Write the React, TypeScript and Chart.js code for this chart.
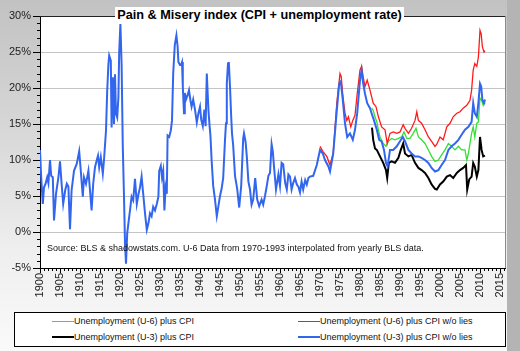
import React, { useEffect, useRef } from 'react';
import { Chart, registerables } from 'chart.js';

Chart.register(...registerables);

const FONT = '"Liberation Sans", Arial, Helvetica, sans-serif';

const TITLE = 'Pain & Misery index (CPI + unemployment rate)';
const SOURCE_NOTE = 'Source: BLS & shadowstats.com. U-6 Data from 1970-1993 interpolated from yearly BLS data.';

const X_TICKS = [1900, 1905, 1910, 1915, 1920, 1925, 1930, 1935, 1940, 1945, 1950, 1955, 1960, 1965, 1970, 1975, 1980, 1985, 1990, 1995, 2000, 2005, 2010, 2015];
const Y_TICKS = [-5, 0, 5, 10, 15, 20, 25, 30];

// Unemployment (U-3) plus CPI w/o lies (blue)
const blueYears = [
  1900.0, 1900.3, 1900.7, 1901.0, 1901.4, 1901.8, 1902.1, 1902.5, 1902.8, 1903.2, 1903.5, 1904.0, 1904.6, 1905.0, 1905.4, 1905.8,
  1906.3, 1906.7, 1907.1, 1907.5, 1907.9, 1908.5, 1909.2, 1909.8, 1910.2, 1910.7, 1911.0, 1911.5, 1912.1, 1912.5, 1912.9, 1913.3,
  1913.75, 1914.2, 1914.5, 1914.8, 1915.2, 1915.7, 1916.0, 1916.5, 1916.8, 1917.1, 1917.3, 1917.7, 1917.9, 1918.2, 1918.5, 1918.75,
  1919.0, 1919.3, 1919.6, 1919.8, 1920.1, 1920.4, 1920.7, 1921.0, 1921.25, 1921.5, 1921.8, 1922.1, 1922.5, 1922.9, 1923.3, 1923.75,
  1924.2, 1924.6, 1925.0, 1925.4, 1925.8, 1926.25, 1926.7, 1927.1, 1927.5, 1927.9, 1928.3, 1928.75, 1929.2, 1929.6, 1929.8, 1930.2,
  1930.5, 1930.8, 1931.1, 1931.4, 1931.7, 1931.9, 1932.3, 1932.7, 1933.0, 1933.3, 1933.7, 1934.1, 1934.4, 1934.6, 1935.0, 1935.25,
  1935.5, 1935.7, 1936.0, 1936.2, 1936.5, 1936.9, 1937.25, 1937.6, 1937.9, 1938.3, 1938.75, 1939.2, 1939.6, 1940.0, 1940.3, 1940.7,
  1941.1, 1941.4, 1941.7, 1942.1, 1942.4, 1942.6, 1942.9, 1943.3, 1943.75, 1944.2, 1944.6, 1945.0, 1945.4, 1945.8, 1946.25, 1946.5,
  1946.7, 1947.0, 1947.2, 1947.5, 1947.8, 1948.0, 1948.3, 1948.75, 1949.3, 1949.8, 1950.3, 1950.8, 1951.0, 1951.4, 1951.7, 1952.1,
  1952.5, 1952.9, 1953.3, 1953.8, 1954.3, 1954.8, 1955.4, 1955.8, 1956.25, 1956.7, 1957.1, 1957.5, 1957.9, 1958.2, 1958.5, 1959.0,
  1959.6, 1960.0, 1960.4, 1960.8, 1961.3, 1961.7, 1962.1, 1962.5, 1962.9, 1963.3, 1963.75, 1964.2, 1964.6, 1965.0, 1965.4, 1965.8,
  1966.3, 1966.7, 1967.1, 1967.5, 1968.3, 1969.2, 1970.0, 1970.7, 1971.25, 1972.1, 1972.5, 1973.3, 1974.2, 1974.8, 1975.2, 1975.7,
  1976.25, 1976.8, 1977.5, 1978.2, 1978.75, 1979.3, 1980.0, 1980.4, 1980.8, 1981.25, 1981.8, 1982.5, 1982.9, 1983.5, 1984.2, 1984.8,
  1985.4, 1986.0, 1986.5, 1986.9, 1987.5, 1988.3, 1989.2, 1990.0, 1990.7, 1991.25, 1992.1, 1992.9, 1993.75, 1994.6, 1995.4, 1996.25,
  1997.1, 1997.9, 1998.75, 1999.6, 2000.4, 2001.25, 2002.1, 2002.9, 2003.75, 2004.6, 2005.4, 2006.25, 2007.1, 2007.9, 2008.3, 2008.7,
  2009.2, 2009.6, 2010.0, 2010.3, 2010.6, 2011.0, 2011.25,
];
const blueValues = [
  11.4, 7.6, 3.9, 6.2, 6.7, 7.6, 6.8, 10.0, 7.8, 7.6, 1.6, 5.3, 7.6, 9.8, 6.7, 3.9,
  5.8, 6.7, 6.3, 0.4, 5.8, 8.5, 9.5, 11.2, 8.5, 4.9, 7.6, 6.7, 8.5, 5.8, 3.0, 6.7,
  9.0, 10.0, 10.6, 9.0, 10.4, 8.1, 10.0, 14.1, 19.6, 23.3, 24.5, 23.8, 14.5, 21.5, 15.0, 21.9,
  16.4, 15.9, 18.7, 25.0, 28.9, 23.3, 11.8, 4.9, -1.6, -4.4, -0.2, 1.2, 3.0, 4.9, 4.4, 7.4,
  3.9, 5.2, 6.2, 7.7, 5.3, 2.6, 0.3, 1.2, 2.6, 2.2, 3.5, 3.0, 3.9, 4.9, 8.5, 9.2,
  7.6, 8.5, 3.0, 6.2, 5.3, 13.4, 13.2, 14.1, 15.5, 22.0, 26.0, 27.3, 25.8, 23.6, 23.2, 23.2,
  23.6, 20.2, 16.5, 19.3, 18.4, 19.0, 19.7, 18.3, 17.4, 18.4, 17.0, 15.2, 16.5, 17.4, 15.6, 14.7,
  17.0, 14.7, 22.0, 17.0, 14.7, 13.5, 10.0, 6.4, 4.5, 2.2, 3.6, 5.0, 6.0, 7.5, 12.8, 15.1,
  20.6, 23.4, 23.6, 20.2, 16.0, 13.7, 12.0, 7.8, 6.0, 3.4, 6.4, 13.0, 13.7, 12.5, 10.5, 7.0,
  5.9, 3.8, 4.5, 7.5, 4.5, 3.6, 4.5, 3.8, 5.0, 6.4, 7.8, 8.2, 12.2, 11.2, 9.1, 5.9,
  8.0, 6.4, 9.6, 9.4, 6.8, 5.9, 8.0, 7.7, 5.9, 6.8, 7.5, 6.6, 6.3, 5.5, 7.0, 5.9,
  7.2, 6.6, 7.5, 7.7, 7.8, 9.3, 11.4, 10.9, 10.0, 9.1, 8.4, 10.9, 16.9, 20.6, 20.9, 18.3,
  15.1, 13.2, 13.7, 12.8, 14.2, 16.5, 21.1, 22.5, 20.6, 19.2, 17.9, 17.2, 16.5, 15.5, 14.2, 12.8,
  12.6, 11.4, 9.6, 9.1, 11.4, 11.4, 11.9, 12.6, 13.2, 12.6, 11.4, 10.9, 10.5, 10.5, 10.3, 10.0,
  9.6, 8.9, 8.4, 8.6, 9.3, 10.0, 11.4, 11.9, 12.3, 12.8, 13.5, 14.2, 14.6, 15.3, 17.9, 16.5,
  16.0, 17.9, 20.6, 20.2, 18.3, 17.9, 18.4,
];

// Unemployment (U-6) plus CPI w/o lies (red)
const redYears = [
  1970.0, 1970.7, 1971.7, 1972.5, 1973.3, 1974.2, 1975.0, 1975.3, 1975.7, 1976.25, 1976.7, 1977.1, 1977.7, 1978.2, 1978.75, 1979.3,
  1980.0, 1980.4, 1980.8, 1981.25, 1981.8, 1982.5, 1983.3, 1984.0, 1984.6, 1985.4, 1986.25, 1986.8, 1987.5, 1988.3, 1989.2, 1990.0,
  1990.8, 1991.25, 1992.1, 1992.9, 1993.75, 1994.2, 1994.6, 1995.4, 1996.25, 1997.1, 1997.9, 1998.75, 1999.2, 2000.0, 2000.8, 2001.7,
  2002.5, 2003.3, 2004.2, 2005.0, 2005.8, 2006.7, 2007.5, 2007.9, 2008.3, 2008.7, 2009.2, 2009.6, 2010.0, 2010.3, 2010.6, 2011.0, 2011.25,
];
const redValues = [
  11.9, 11.2, 10.5, 9.3, 10.9, 17.9, 22.0, 21.6, 19.0, 16.5, 15.5, 16.0, 14.6, 15.5, 16.2, 19.2,
  22.5, 23.0, 21.5, 20.2, 21.1, 19.7, 17.9, 17.4, 16.0, 14.6, 14.2, 12.3, 13.7, 13.9, 13.7, 13.9,
  14.9, 14.4, 13.7, 14.4, 15.5, 16.7, 15.5, 15.1, 14.2, 13.2, 12.6, 11.9, 12.2, 13.2, 12.8, 14.6,
  15.1, 16.0, 16.5, 16.7, 17.2, 17.6, 18.3, 19.7, 22.5, 23.4, 23.0, 24.3, 28.0, 27.5, 25.7, 25.0, 25.2,
];

// Unemployment (U-6) plus CPI (green)
const greenYears = [
  1982.9, 1983.3, 1983.75, 1984.2, 1984.6, 1985.0, 1985.8, 1986.5, 1987.1, 1987.9, 1988.75, 1989.6, 1990.4, 1991.0, 1991.7, 1992.5,
  1993.3, 1994.0, 1994.6, 1995.4, 1996.25, 1997.1, 1997.9, 1998.75, 1999.6, 2000.4, 2001.25, 2002.1, 2002.9, 2003.75, 2004.6, 2005.4,
  2006.25, 2006.7, 2007.1, 2007.5, 2007.9, 2008.3, 2008.7, 2009.2, 2009.6, 2010.0, 2010.4, 2010.8, 2011.0, 2011.25,
];
const greenValues = [
  17.2, 16.9, 16.0, 15.3, 14.2, 13.2, 12.3, 11.9, 12.6, 13.0, 12.8, 13.0, 13.2, 13.9, 13.0, 13.0,
  13.7, 14.4, 13.2, 12.8, 12.3, 11.4, 10.5, 9.8, 10.0, 10.7, 11.4, 12.3, 11.9, 11.4, 11.9, 11.4,
  11.4, 10.0, 10.9, 12.3, 13.7, 14.6, 13.2, 15.1, 15.3, 18.6, 18.3, 17.6, 18.0, 17.8,
];

// Unemployment (U-3) plus CPI (black)
const blackYears = [
  1983.0, 1983.3, 1983.75, 1984.2, 1985.0, 1985.8, 1986.5, 1986.8, 1987.2, 1987.9, 1988.75, 1989.6, 1990.2, 1990.8, 1991.25, 1992.1,
  1992.9, 1993.75, 1994.6, 1995.4, 1996.25, 1997.1, 1997.9, 1998.75, 1999.2, 2000.0, 2000.8, 2001.7, 2002.5, 2003.3, 2004.2, 2005.0,
  2005.8, 2006.5, 2006.8, 2007.3, 2007.9, 2008.3, 2008.7, 2009.2, 2009.6, 2010.0, 2010.4, 2010.8, 2011.25,
];
const blackValues = [
  14.5, 12.8, 11.6, 11.4, 10.5, 9.6, 8.6, 7.5, 9.6, 9.8, 9.6, 10.3, 11.4, 12.3, 10.9, 10.5,
  10.7, 9.6, 8.9, 8.6, 8.2, 7.5, 6.6, 6.0, 5.9, 6.6, 7.0, 7.7, 7.9, 7.5, 8.2, 8.6,
  8.9, 9.3, 5.9, 7.3, 7.7, 9.6, 9.1, 7.7, 8.6, 13.2, 11.4, 10.5, 10.6,
];

const SERIES = [
  { label: 'Unemployment (U-6) plus CPI', years: greenYears, values: greenValues, color: '#33e033', width: 1.3, order: 4 },
  { label: 'Unemployment (U-6) plus CPI w/o lies', years: redYears, values: redValues, color: '#ff1a1a', width: 1.3, order: 3 },
  { label: 'Unemployment (U-3) plus CPI', years: blackYears, values: blackValues, color: '#000000', width: 2, order: 2 },
  { label: 'Unemployment (U-3) plus CPI w/o lies', years: blueYears, values: blueValues, color: '#3366ee', width: 2, order: 1 },
];

const framePlugin = {
  id: 'frame',
  beforeDraw(chart: any) {
    const { ctx, chartArea } = chart;
    ctx.save();
    ctx.fillStyle = '#ffffff';
    ctx.fillRect(chartArea.left, chartArea.top, chartArea.right - chartArea.left, chartArea.bottom - chartArea.top);
    ctx.restore();
  },
  afterDraw(chart: any) {
    const { ctx, chartArea, scales } = chart;
    const { left, right, top, bottom } = chartArea;
    const x = scales.x;
    const y = scales.y;
    ctx.save();
    ctx.lineWidth = 1;
    ctx.strokeStyle = '#000000';
    ctx.beginPath();
    for (let v = -5; v <= 30; v++) {
      const py = Math.round(y.getPixelForValue(v)) + 0.5;
      ctx.moveTo(left - 3, py);
      ctx.lineTo(left, py);
    }
    for (let yr = 1900; yr <= 2016; yr++) {
      const px = Math.round(x.getPixelForValue(yr)) + 0.5;
      ctx.moveTo(px, bottom);
      ctx.lineTo(px, bottom + 3);
    }
    ctx.stroke();
    ctx.beginPath();
    ctx.strokeStyle = '#222222';
    ctx.moveTo(left, Math.round(top) + 0.5);
    ctx.lineTo(right, Math.round(top) + 0.5);
    ctx.stroke();
    ctx.beginPath();
    ctx.strokeStyle = '#8a8a8a';
    ctx.moveTo(Math.round(right) + 0.5, top);
    ctx.lineTo(Math.round(right) + 0.5, bottom);
    ctx.stroke();
    ctx.restore();
  },
};

export default function App() {
  const canvasRef = useRef<HTMLCanvasElement | null>(null);

  useEffect(() => {
    if (!canvasRef.current) return;
    const chart = new Chart(canvasRef.current, {
      type: 'line',
      data: {
        datasets: SERIES.map((s) => ({
          label: s.label,
          data: s.years.map((yr, i) => ({ x: yr, y: s.values[i] })),
          borderColor: s.color,
          backgroundColor: s.color,
          borderWidth: s.width,
          pointRadius: 0,
          tension: 0,
          fill: false,
          order: s.order,
        })),
      },
      options: {
        animation: false,
        responsive: true,
        maintainAspectRatio: false,
        events: [],
        layout: { padding: { left: 0, right: 15, top: 16, bottom: 0 } },
        plugins: {
          legend: { display: false },
          title: { display: false },
          tooltip: { enabled: false },
        },
        scales: {
          x: {
            type: 'linear',
            min: 1900,
            max: 2016.25,
            afterBuildTicks: (scale: any) => {
              scale.ticks = X_TICKS.map((v) => ({ value: v }));
            },
            afterFit: (scale: any) => {
              scale.height = 83;
            },
            grid: { drawOnChartArea: false, drawTicks: true, tickLength: 5, tickColor: '#000000' },
            border: { display: true, color: '#000000', width: 1 },
            ticks: {
              autoSkip: false,
              minRotation: 90,
              maxRotation: 90,
              padding: 0,
              color: '#222222',
              font: { family: FONT, size: 11 },
              callback: (v: any) => String(v),
            },
          },
          y: {
            type: 'linear',
            min: -5,
            max: 30,
            afterBuildTicks: (scale: any) => {
              scale.ticks = Y_TICKS.map((v) => ({ value: v }));
            },
            afterFit: (scale: any) => {
              scale.width = 40;
            },
            grid: { color: '#c4c4c4', lineWidth: 1, tickLength: 7, tickColor: '#000000' },
            border: { display: true, color: '#000000', width: 1 },
            ticks: {
              padding: 2,
              color: '#222222',
              font: { family: FONT, size: 11 },
              callback: (v: any) => v + '%',
            },
          },
        },
      },
      plugins: [framePlugin],
    });
    return () => chart.destroy();
  }, []);

  const legendPos = [
    { left: 52, top: 321 },
    { left: 298, top: 321 },
    { left: 52, top: 337 },
    { left: 298, top: 337 },
  ];

  return (
    <div
      style={{
        position: 'absolute',
        left: 0,
        top: 0,
        width: 520,
        height: 351,
        overflow: 'hidden',
        background: 'linear-gradient(to bottom, #c2c2c2 0%, #d6d6d6 35%, #eeeeee 70%, #fafafa 100%)',
        fontFamily: FONT,
      }}
    >
      <div style={{ position: 'absolute', left: 507, top: 0, width: 13, height: 351, background: '#b4b4b4' }} />
      <div style={{ position: 'absolute', left: 0, top: 0, width: 520, height: 351 }}>
        <canvas ref={canvasRef} />
      </div>
      <div
        style={{
          position: 'absolute',
          left: 115,
          top: 7,
          width: 289,
          height: 16,
          background: '#ffffff',
          fontWeight: 'bold',
          fontSize: 12.7,
          lineHeight: '16px',
          textAlign: 'center',
          color: '#000',
          whiteSpace: 'nowrap',
        }}
      >
        {TITLE}
      </div>
      <div
        style={{
          position: 'absolute',
          left: 47,
          top: 243,
          fontSize: 9,
          lineHeight: '11px',
          color: '#111',
          whiteSpace: 'nowrap',
        }}
      >
        {SOURCE_NOTE}
      </div>
      <div
        style={{
          position: 'absolute',
          left: 14,
          top: 312,
          width: 490,
          height: 33,
          background: '#ffffff',
          border: '1px solid #000',
        }}
      />
      {SERIES.map((s, i) => (
        <React.Fragment key={s.label}>
          <div
            style={{
              position: 'absolute',
              left: legendPos[i].left,
              top: legendPos[i].top - (s.width > 1.5 ? 1 : 0),
              width: 22,
              height: s.width > 1.5 ? 2 : 1,
              background: s.color,
            }}
          />
          <div
            style={{
              position: 'absolute',
              left: legendPos[i].left + 22,
              top: legendPos[i].top - 6,
              fontSize: 9,
              lineHeight: '12px',
              color: '#111',
              whiteSpace: 'nowrap',
            }}
          >
            {s.label}
          </div>
        </React.Fragment>
      ))}
    </div>
  );
}
